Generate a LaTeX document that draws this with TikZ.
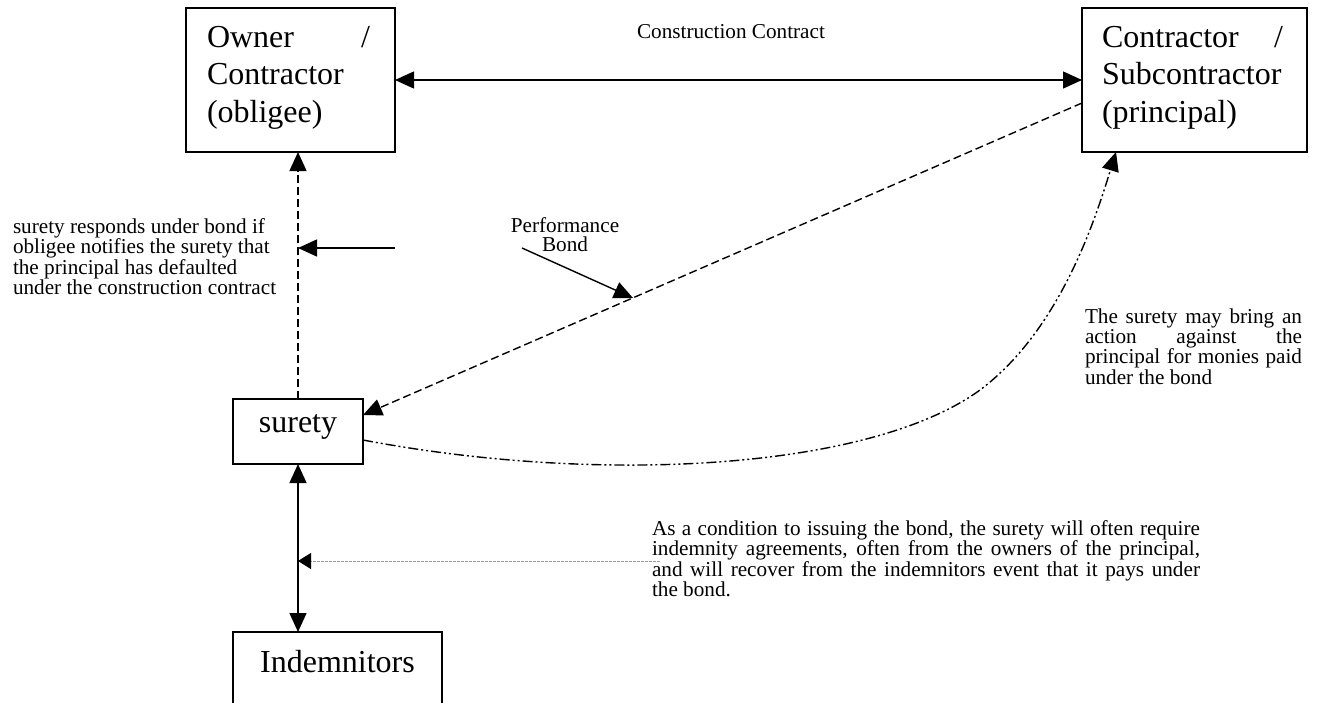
\documentclass[tikz,border=0pt]{standalone}
\usepackage{fontspec}
\setmainfont{Liberation Serif}
\usetikzlibrary{arrows.meta}

\newcommand\partyfont{\fontsize{32}{37.5}\selectfont}
\newcommand\notefont{\fontsize{21.2}{19}\selectfont}
\newcommand\fillline[1]{\makebox[\linewidth][s]{#1}}

\begin{document}
\begin{tikzpicture}[x=1pt,y=-1pt,
  every node/.style={inner sep=0pt, outer sep=0pt},
  party/.style={draw, line width=1.4pt},
  partytext/.style={font=\partyfont, anchor=base west},
  note/.style={font=\notefont, anchor=base west},
  link/.style={line width=1.4pt},
  head/.style={-{Triangle[length=19pt,width=17pt]}},
  twoheads/.style={{Triangle[length=19pt,width=17pt]}-{Triangle[length=19pt,width=17pt]}},
  dashedlink/.style={link, dash pattern=on 8pt off 4pt},
  dashdotdot/.style={link, dash pattern=on 10pt off 3pt on 2pt off 3pt on 2pt off 3pt},
  pointer/.style={draw=black!40, line width=0.8pt, dash pattern=on 3pt off 1pt,
    -{Triangle[length=13pt,width=16pt,color=black,fill=black]}},
]
\useasboundingbox (0,0) rectangle (1317,702);

% parties
\node[party, minimum width=209pt, minimum height=144pt] (owner) at (290.5,80) {};
\node[party, minimum width=225pt, minimum height=144pt] (contractor) at (1194.5,80) {};
\node[party, minimum width=130pt, minimum height=65pt] (surety) at (298,431.5) {};
\node[party, minimum width=209pt, minimum height=130pt, anchor=north] (indem) at (337.5,632) {};

\node[partytext] (ownertext) at (207,47)
  {\parbox[t]{163pt}{\fillline{Owner\hfill/}\\Contractor\\(obligee)}};
\node[partytext] (contractortext) at (1102,47)
  {\parbox[t]{181pt}{\fillline{Contractor\hfill/}\\Subcontractor\\(principal)}};
\node[partytext, anchor=base] (suretytext) at (298,432) {surety};
\node[partytext, anchor=base] (indemtext) at (337.5,672) {Indemnitors};

% notes
\node[note, anchor=base] (cc) at (731,38) {Construction Contract};
\node[note, anchor=base] (perf) at (565,232)
  {\parbox[t]{140pt}{\centering Performance\\Bond}};
\node[note] (respond) at (13,233)
  {\parbox[t]{290pt}{surety responds under bond if\\obligee notifies the surety that\\
   the principal has defaulted\\under the construction contract}};
\node[note] (action) at (1085,323)
  {\parbox[t]{217pt}{\fillline{The surety may bring an}\\\fillline{action against the}\\
   \fillline{principal for monies paid}\\under the bond}};
\node[note] (indemnote) at (652,535)
  {\parbox[t]{548pt}{\fillline{As a condition to issuing the bond, the surety will often require}\\
   \fillline{indemnity agreements, often from the owners of the principal,}\\
   \fillline{and will recover from the indemnitors event that it pays under}\\the bond.}};

% free ends of the pointer arrows
\coordinate (respondfrom) at (395,248);
\coordinate (respondto) at (298,248);
\coordinate (perffrom) at (522,248);
\coordinate (perfto) at (633,298);
\coordinate (indemfrom) at (660,561);
\coordinate (indemto) at (298,561);

% construction contract
\draw[link, twoheads] (owner.east) -- (contractor.west);
% performance bond: surety to obligee, principal to surety
\draw[dashedlink, head] (surety.north) -- (surety.north |- owner.south);
\draw[dashedlink, head] ([yshift=-23pt]contractor.west) -- ([yshift=16.5pt]surety.east);
\draw[link, head] (respondfrom) -- (respondto);
\draw[link, head] (perffrom) -- (perfto);
% recovery action against the principal
\draw[dashdotdot, head] ([yshift=-8.5pt]surety.east)
  .. controls (600,485) and (870,470) .. (980,390)
  .. controls (1060,330) and (1095,220) .. ([xshift=34pt]contractor.south west);
% indemnity
\draw[link, twoheads] (surety.south) -- (surety.south |- indem.north);
\draw[pointer] (indemfrom) -- (indemto);
\end{tikzpicture}
\end{document}
